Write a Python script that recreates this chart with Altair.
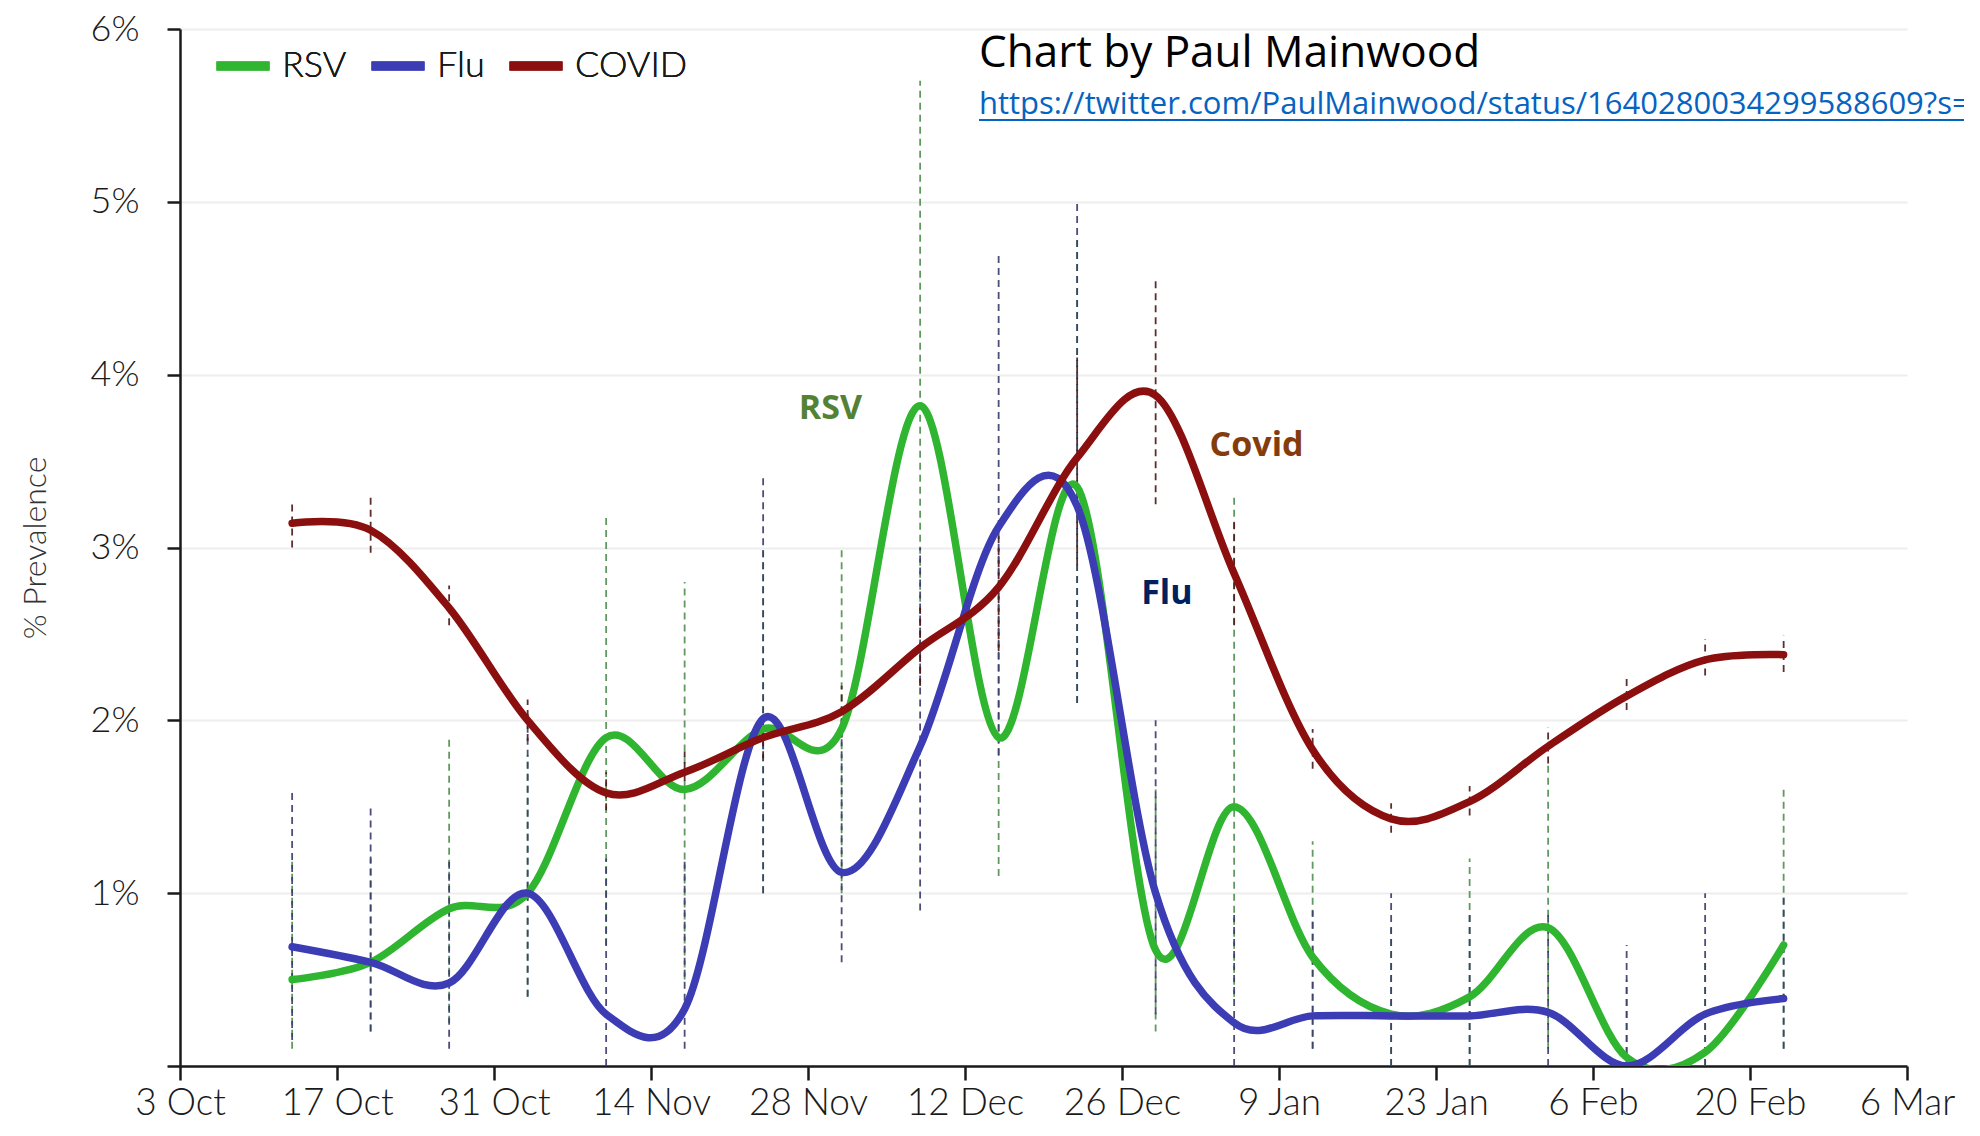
import altair as alt
import pandas as pd

# ---------------- data ----------------
dates = ["2022-10-13", "2022-10-20", "2022-10-27", "2022-11-03", "2022-11-10",
         "2022-11-17", "2022-11-24", "2022-12-01", "2022-12-08", "2022-12-15",
         "2022-12-22", "2022-12-29", "2023-01-05", "2023-01-12", "2023-01-19",
         "2023-01-26", "2023-02-02", "2023-02-09", "2023-02-16", "2023-02-23"]

rsv = [0.50, 0.60, 0.91, 1.00, 1.90, 1.60, 1.95, 1.95, 3.82, 1.90,
       3.35, 0.67, 1.50, 0.63, 0.30, 0.40, 0.80, 0.05, 0.08, 0.70]
rsv_lo = [0.10, 0.20, 0.25, 0.40, 0.70, 0.50, 1.00, 1.00, 2.20, 1.10,
          2.10, 0.20, 0.40, 0.10, 0.00, 0.00, 0.10, 0.00, 0.00, 0.10]
rsv_hi = [1.20, 1.20, 1.90, 1.80, 3.20, 2.80, 3.00, 3.00, 5.70, 3.00,
          4.80, 1.60, 3.30, 1.30, 0.80, 1.20, 1.75, 0.50, 0.60, 1.60]

flu = [0.69, 0.60, 0.48, 1.00, 0.30, 0.33, 2.01, 1.12, 1.85, 3.12,
       3.24, 1.00, 0.25, 0.29, 0.29, 0.29, 0.31, 0.00, 0.30, 0.39]
flu_lo = [0.15, 0.20, 0.10, 0.40, 0.00, 0.10, 1.00, 0.60, 0.90, 1.80,
          2.10, 0.30, 0.00, 0.10, 0.00, 0.00, 0.00, 0.00, 0.00, 0.10]
flu_hi = [1.60, 1.50, 1.20, 2.05, 1.20, 1.20, 3.40, 2.00, 3.00, 4.70,
          5.00, 2.00, 0.90, 0.90, 1.00, 0.90, 0.90, 0.70, 1.00, 1.00]

covid = [3.14, 3.10, 2.65, 2.00, 1.58, 1.70, 1.90, 2.05, 2.42, 2.77,
         3.52, 3.88, 2.85, 1.83, 1.43, 1.53, 1.85, 2.14, 2.35, 2.38]
covid_lo = [3.00, 2.97, 2.55, 1.88, 1.48, 1.58, 1.78, 1.90, 2.20, 2.40,
            2.90, 3.25, 2.55, 1.72, 1.35, 1.45, 1.75, 2.06, 2.26, 2.28]
covid_hi = [3.27, 3.29, 2.78, 2.12, 1.70, 1.82, 2.02, 2.20, 2.65, 3.15,
            4.10, 4.57, 3.15, 1.95, 1.52, 1.62, 1.96, 2.25, 2.47, 2.49]

series_names = ["RSV", "Flu", "COVID"]
line_colors = ["#2fb52f", "#3c3cb4", "#8c0f0f"]
ci_colors = ["#4f8f4f", "#3a3a6a", "#4a1818"]

tick_dates = ["2022-10-03", "2022-10-17", "2022-10-31", "2022-11-14",
              "2022-11-28", "2022-12-12", "2022-12-26", "2023-01-09",
              "2023-01-23", "2023-02-06", "2023-02-20", "2023-03-06"]
y_ticks = [0, 1, 2, 3, 4, 5, 6]

ann_text = ["RSV", "Covid", "Flu"]
ann_date = ["2022-11-30", "2023-01-07", "2022-12-30"]
ann_value = [3.8, 3.59, 2.73]
ann_color = ["#548235", "#843C0C", "#002060"]

credit = "Chart by Paul Mainwood"
link = "https://twitter.com/PaulMainwood/status/1640280034299588609?s="

# ---------------- tables ----------------
rows = []
for name, v, lo, hi in [("RSV", rsv, rsv_lo, rsv_hi),
                        ("Flu", flu, flu_lo, flu_hi),
                        ("COVID", covid, covid_lo, covid_hi)]:
    for d, a, b, c in zip(dates, v, lo, hi):
        rows.append({"date": d + "T00:00:00", "series": name,
                     "value": a, "lo": b, "hi": c})
df = pd.DataFrame(rows)

ann = pd.DataFrame({"text": ann_text,
                    "date": [d + "T00:00:00" for d in ann_date],
                    "value": ann_value, "color": ann_color})


def to_dt(s):
    y, m, d = s.split("-")
    return alt.DateTime(year=int(y), month=int(m), date=int(d))


FONT = "Lato"
W, H = 1727, 1037
TOP = 21

x_scale = alt.Scale(domain=[to_dt(tick_dates[0]), to_dt(tick_dates[-1])])
x_axis = alt.Axis(values=[to_dt(t) for t in tick_dates], format="%-d %b",
                  title=None, grid=False, labelFontSize=37, labelFontWeight=300,
                  labelPadding=5, tickSize=14, labelFlush=False)
y_scale = alt.Scale(domain=[0, 6], nice=False)
y_axis = alt.Axis(values=y_ticks,
                  labelExpr="datum.value == 0 ? '' : datum.value + '%'",
                  title="% Prevalence", titleX=-145, titleY=H / 2,
                  titleAngle=270, titleAlign="center",
                  titleBaseline="middle", titleFontSize=32,
                  titleFontWeight=300, titleColor="#333333",
                  labelFontSize=36, labelFontWeight=300, labelPadding=28,
                  tickSize=13, grid=True, gridColor="#eeeeee", gridWidth=2)

x_enc = alt.X("date:T", scale=x_scale, axis=x_axis)

base = alt.Chart(df)

ci = base.mark_rule(strokeDash=[7, 5], strokeWidth=1.8, opacity=0.9).encode(
    x=x_enc,
    y=alt.Y("lo:Q", scale=y_scale, axis=y_axis),
    y2="hi:Q",
    stroke=alt.Stroke("series:N", scale=alt.Scale(domain=series_names, range=ci_colors),
                      legend=None),
)

color_scale = alt.Scale(domain=series_names, range=line_colors)
lines = []
for name in series_names:
    lines.append(
        base.transform_filter(alt.datum.series == name)
        .mark_line(interpolate="cardinal", strokeWidth=7.5, strokeCap="round",
                   strokeJoin="round", clip=True)
        .encode(x=x_enc, y=alt.Y("value:Q", scale=y_scale, axis=y_axis),
                color=alt.Color("series:N", scale=color_scale,
                                legend=alt.Legend(title=None)))
    )

labels = alt.Chart(ann).mark_text(font="Open Sans", fontWeight="bold",
                                  fontSize=34, align="center",
                                  baseline="middle").encode(
    x=alt.X("date:T", scale=x_scale, axis=x_axis),
    y=alt.Y("value:Q", scale=y_scale, axis=y_axis),
    text="text:N",
    color=alt.Color("color:N", scale=None),
)

credit_txt = alt.Chart(pd.DataFrame({"t": [credit]})).mark_text(
    font="Open Sans", fontSize=44, align="left", baseline="alphabetic",
    color="#000000").encode(x=alt.value(799), y=alt.value(38), text="t:N")
link_txt = alt.Chart(pd.DataFrame({"t": [link]})).mark_text(
    font="Open Sans", fontSize=31, align="left", baseline="alphabetic",
    color="#0563C1").encode(x=alt.value(799), y=alt.value(85), text="t:N")
underline = alt.Chart(pd.DataFrame({"t": [link]})).mark_rule(
    color="#0563C1", strokeWidth=2).encode(
    x=alt.value(799), x2=alt.value(1900), y=alt.value(91))

chart = alt.layer(ci, *lines, labels, credit_txt, link_txt, underline).properties(
    width=W, height=H,
    padding={"left": 172, "top": TOP, "right": 57, "bottom": 56},
    autosize=alt.AutoSizeParams(type="none"),
    background="white",
).resolve_scale(color="independent").configure_view(stroke=None).configure_axis(
    labelFont=FONT, titleFont=FONT, labelColor="#1a1a1a",
    domainColor="#1a1a1a", domainWidth=2.5, tickColor="#1a1a1a", tickWidth=2.5,
).configure_legend(
    orient="none", legendX=32, legendY=6, direction="horizontal",
    symbolType="stroke", symbolStrokeWidth=9, symbolSize=2800,
    labelFont=FONT, labelFontSize=36, labelFontWeight=300, labelColor="#1a1a1a",
    labelOffset=8, columnPadding=6, padding=0,
)

chart.save("out.html", embed_options={"renderer": "svg", "actions": False})
